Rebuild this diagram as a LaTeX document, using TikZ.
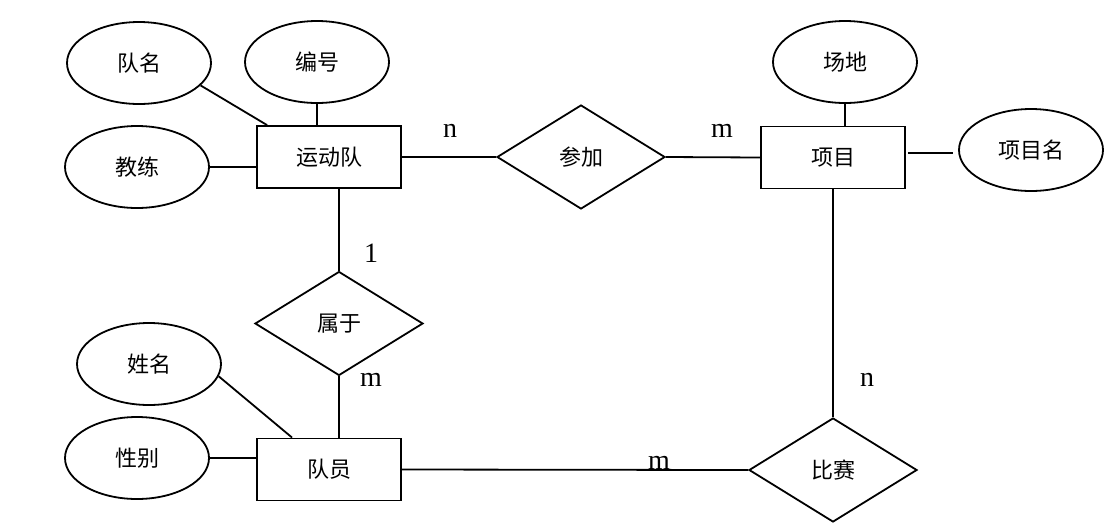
\documentclass[tikz,border=0pt]{standalone}
\usepackage{fontspec}
\setmainfont{Liberation Serif}
\newfontfamily\cjk{Noto Sans CJK SC}
\usetikzlibrary{shapes.geometric}
\tikzset{
  every picture/.style={line width=1.8pt},
  attr/.style={draw, ellipse, minimum width=144pt, minimum height=82pt, inner sep=0pt, font=\cjk\fontsize{22}{24}\selectfont},
  entity/.style={draw, rectangle, minimum width=144pt, minimum height=62pt, inner sep=0pt, font=\cjk\fontsize{22}{24}\selectfont},
  rel/.style={draw, diamond, minimum width=168pt, minimum height=104pt, inner sep=0pt, font=\cjk\fontsize{22}{24}\selectfont},
  card/.style={anchor=base, inner sep=0pt, font=\fontsize{28}{30}\selectfont},
  conn/.style={draw, line width=1.8pt}
}
\begin{document}
\begin{tikzpicture}[x=1pt, y=-1pt]
\useasboundingbox (0,0) rectangle (1113,523);
% entities
\node[entity] (team) at (329,157) {运动队};
\node[entity] (proj) at (833,157.5) {项目};
\node[entity] (member) at (329,469.5) {队员};
% relationships
\node[rel] (join) at (581,157) {参加};
\node[rel] (belong) at (339,323.5) {属于};
\node[rel] (match) at (833,470) {比赛};
% attributes
\node[attr] (teamname) at (139,63) {队名};
\node[attr] (teamid) at (317,62) {编号};
\node[attr] (coach) at (137,167) {教练};
\node[attr] (venue) at (845,62) {场地};
\node[attr] (projname) at (1031,150) {项目名};
\node[attr] (name) at (149,364) {姓名};
\node[attr] (gender) at (137,458) {性别};
% connectors
\draw[conn] (teamname.-20) -- ([xshift=11pt]team.north west);
\draw[conn] (teamid.south) -- (teamid.south |- team.north);
\draw[conn] (coach.east) -- (coach.east -| team.west);
\draw[conn] (team.east) -- (join.west);
\draw[conn] (join.east) -- (proj.west);
\draw[conn] (venue.south) -- (venue.south |- proj.north);
\draw[conn] ([shift={(2pt,4.5pt)}]proj.east) -- ([shift={(-5pt,-3pt)}]projname.west);
\draw[conn] (proj.south) -- (match.north);
\draw[conn] (belong.north |- team.south) -- (belong.north);
\draw[conn] (belong.south) -- (belong.south |- member.north);
\draw[conn] (name.-10) -- ([xshift=36pt]member.north west);
\draw[conn] (gender.east) -- (gender.east -| member.west);
\draw[conn] (member.east) -- (match.west);
% cardinalities
\node[card] (c1) at (450,137) {n};
\node[card] (c2) at (722,137) {m};
\node[card] (c3) at (371,262) {1};
\node[card] (c4) at (371,386) {m};
\node[card] (c5) at (867,386) {n};
\node[card] (c6) at (659,469) {m};
\end{tikzpicture}
\end{document}
